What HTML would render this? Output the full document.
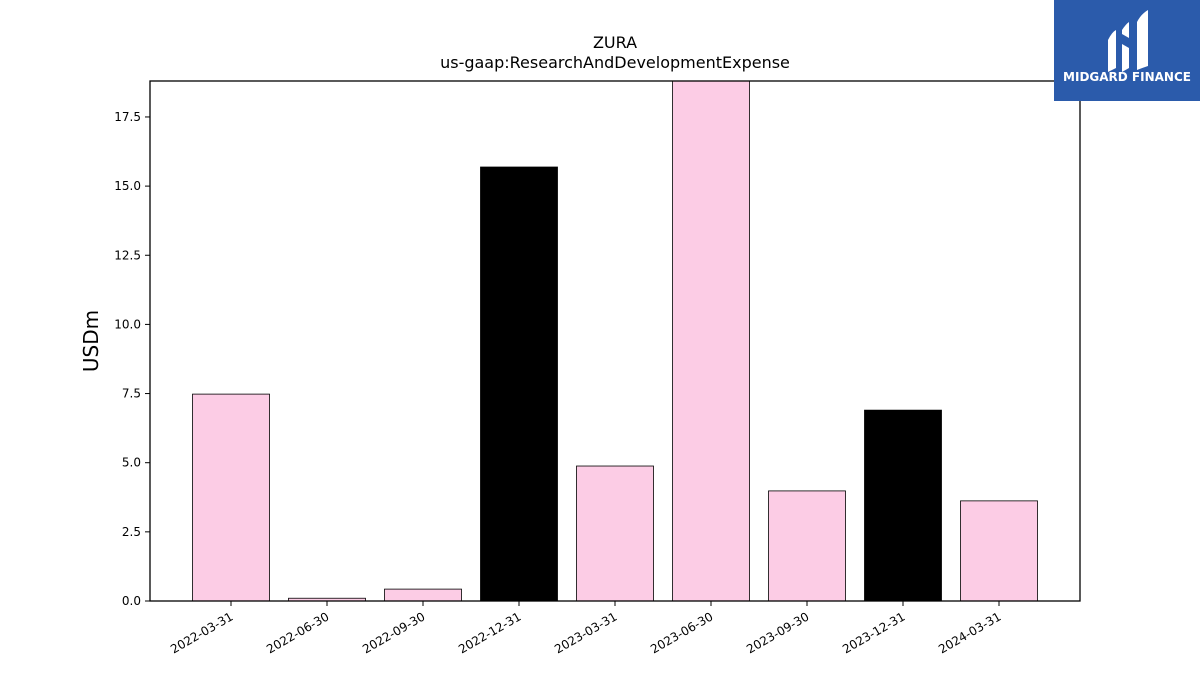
<!DOCTYPE html>
<html><head><meta charset="utf-8"><style>
body{margin:0;background:#fff;font-family:"Liberation Sans","DejaVu Sans",sans-serif;}
svg text{font-family:"DejaVu Sans","Liberation Sans",sans-serif;}
</style></head><body>
<svg id="c" width="1200" height="675" xmlns="http://www.w3.org/2000/svg">
<text x="615" y="48" font-size="16" text-anchor="middle">ZURA</text>
<text x="615" y="68" font-size="16" text-anchor="middle">us-gaap:ResearchAndDevelopmentExpense</text>
<text x="98" y="341" font-size="20" text-anchor="middle" transform="rotate(-90 98 341)">USDm</text>
<g id="bars"></g>
<g id="ticks"></g>
<rect x="150" y="81" width="930" height="520" fill="none" stroke="#000" stroke-width="1.3"/>
<g>
<rect x="1054" y="0" width="146" height="101" fill="#2b5bab"/>
<path d="M1108 40 q4-8 8-10 v38 q-4 2-8 4z M1122 30 q4-6 7-8 v16 l-7 -4z M1122 44 l7 4 v20 l-7 4z M1137 22 q4-8 11-12 v56 q-6 2-11 4z" fill="#fff"/>
<text x="1127" y="81" font-size="12" font-weight="bold" fill="#fff" text-anchor="middle" font-family="Liberation Sans, sans-serif">MIDGARD FINANCE</text>
</g>
</svg>
<script>
const categories=["2022-03-31","2022-06-30","2022-09-30","2022-12-31","2023-03-31","2023-06-30","2023-09-30","2023-12-31","2024-03-31"];
const values=[7.48,0.1,0.43,15.69,4.88,19.5,3.98,6.9,3.62];
const colors=["#fccce5","#fccce5","#fccce5","#000000","#fccce5","#fccce5","#fccce5","#000000","#fccce5"];
const yTicks=[0,2.5,5,7.5,10,12.5,15,17.5];
const yTickLabels=["0.0","2.5","5.0","7.5","10.0","12.5","15.0","17.5"];
const yMax=18.8;
const NS="http://www.w3.org/2000/svg";
const x0=150,x1=1080,yTop=81,yBot=601;
const step=96,firstC=231,bw=77;
function xs(i){return firstC+i*step;}
function ys(v){return yBot-(Math.min(v,yMax)/yMax)*(yBot-yTop);}
const bars=document.getElementById('bars'),ticks=document.getElementById('ticks');
values.forEach((v,i)=>{
 const r=document.createElementNS(NS,'rect');
 
 
 r.setAttribute('x',xs(i)-bw/2);r.setAttribute('y',ys(v));
 r.setAttribute('width',bw);r.setAttribute('height',yBot-ys(v));
 r.setAttribute('fill',colors[i]);r.setAttribute('stroke','#000');r.setAttribute('stroke-width','0.8');
 bars.appendChild(r);
 const t=document.createElementNS(NS,'line');
 
 
 t.setAttribute('x1',xs(i));t.setAttribute('x2',xs(i));t.setAttribute('y1',yBot);t.setAttribute('y2',yBot+5);t.setAttribute('stroke','#000');
 ticks.appendChild(t);
 const l=document.createElementNS(NS,'text');
 
 
 const lx=xs(i)+3,ly=yBot+18;
 l.setAttribute('x',lx);l.setAttribute('y',ly);l.setAttribute('font-size','12');l.setAttribute('text-anchor','end');
 l.setAttribute('transform','rotate(-30 '+lx+' '+ly+')');
 l.textContent=categories[i];
 ticks.appendChild(l);
});
yTicks.forEach((v,i)=>{
 const t=document.createElementNS(NS,'line');
 
 
 t.setAttribute('x1',x0-5);t.setAttribute('x2',x0);t.setAttribute('y1',ys(v));t.setAttribute('y2',ys(v));t.setAttribute('stroke','#000');
 ticks.appendChild(t);
 const l=document.createElementNS(NS,'text');
 
 
 l.setAttribute('x',x0-9);l.setAttribute('y',ys(v)+4);l.setAttribute('font-size','12');l.setAttribute('text-anchor','end');
 l.textContent=yTickLabels[i];
 ticks.appendChild(l);
});
</script>
</body></html>
